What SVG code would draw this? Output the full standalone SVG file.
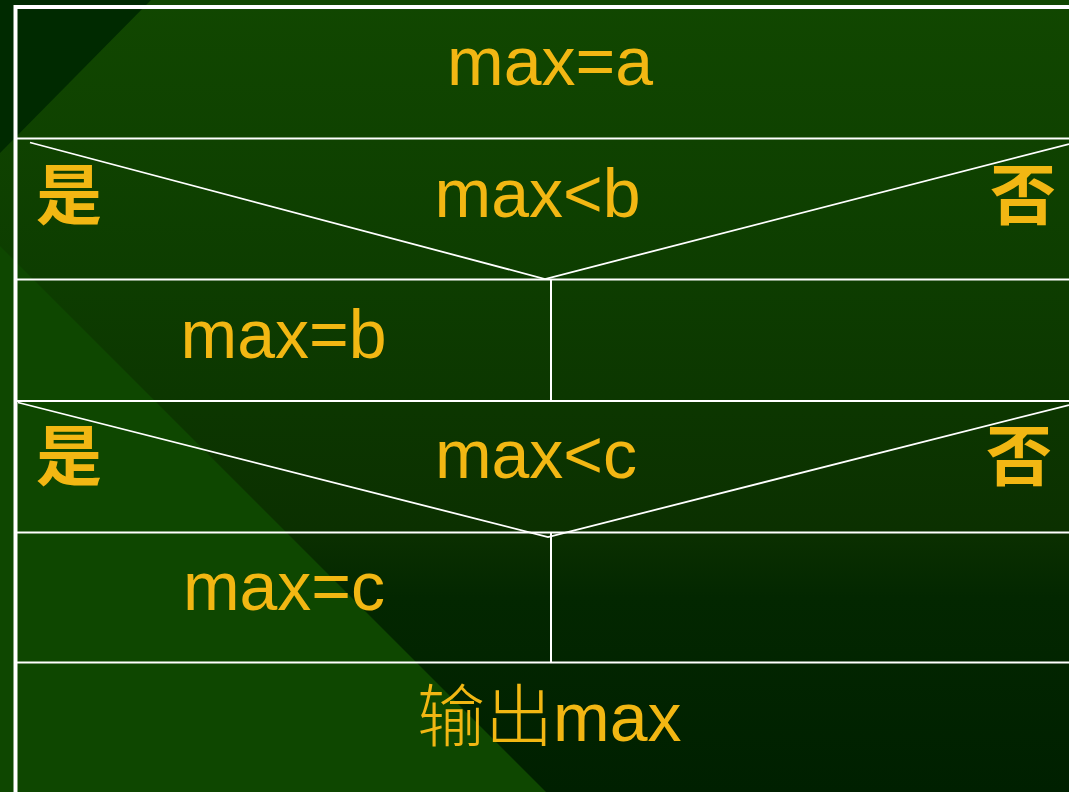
<svg xmlns="http://www.w3.org/2000/svg" width="1069" height="792" viewBox="0 0 1069 792">
  <defs>
    <linearGradient id="bg" x1="0" y1="0" x2="0" y2="1">
      <stop offset="0" stop-color="#114700"/>
      <stop offset="0.35" stop-color="#0d3d00"/>
      <stop offset="0.67" stop-color="#0b3000"/>
      <stop offset="0.755" stop-color="#032700"/>
      <stop offset="1" stop-color="#002000"/>
    </linearGradient>
  </defs>
  <style>
    .ln { stroke: #ffffff; stroke-width: 2; fill: none; }
    .dg { stroke: #ffffff; stroke-width: 1.8; fill: none; }
    .t { font-family: "Liberation Sans", Arial, sans-serif; font-size: 68px; fill: #f2b713; }
    .c { font-family: "Noto Sans CJK SC", sans-serif; font-size: 66px; font-weight: 700; fill: #f2b713; }
    .cl { font-family: "Noto Sans CJK SC", sans-serif; font-weight: 300; }
  </style>

  <g id="background">
    <rect x="0" y="0" width="1069" height="792" fill="url(#bg)"/>
    <polygon points="0,0 151,0 0,153" fill="#002a00"/>
    <polygon points="0,246 546,792 0,792" fill="#0e4700"/>
  </g>

  <g id="frame">
    <path d="M15.5,792 V7 H1069" stroke="#ffffff" stroke-width="4" fill="none"/>
  </g>

  <g id="connectors">
    <line class="ln" x1="17" y1="138.5" x2="1069" y2="138.5"/>
    <line class="ln" x1="17" y1="279.5" x2="1069" y2="279.5"/>
    <line class="ln" x1="17" y1="401" x2="1069" y2="401"/>
    <line class="ln" x1="17" y1="532.5" x2="1069" y2="532.5"/>
    <line class="ln" x1="17" y1="662.5" x2="1069" y2="662.5"/>
    <line class="ln" x1="551" y1="279.5" x2="551" y2="401"/>
    <line class="ln" x1="551" y1="532.5" x2="551" y2="662.5"/>
    <polyline class="dg" points="30,142.5 545,279 1069,144"/>
    <polyline class="dg" points="18,402.5 548,537 1069,405"/>
  </g>

  <g id="node-max-a">
    <text class="t" x="550" y="85" text-anchor="middle">max=a</text>
  </g>
  <g id="node-max-lt-b">
    <text class="t" x="537.5" y="217" text-anchor="middle">max&lt;b</text>
    <text class="c" x="36" y="219">是</text>
    <text class="c" x="990" y="219">否</text>
  </g>
  <g id="node-max-b">
    <text class="t" x="283.5" y="358" text-anchor="middle">max=b</text>
  </g>
  <g id="node-max-lt-c">
    <text class="t" x="536" y="478" text-anchor="middle">max&lt;c</text>
    <text class="c" x="36" y="480">是</text>
    <text class="c" x="986" y="480">否</text>
  </g>
  <g id="node-max-c">
    <text class="t" x="284" y="610" text-anchor="middle">max=c</text>
  </g>
  <g id="node-output">
    <text class="t" x="417" y="741"><tspan class="cl">输出</tspan>max</text>
  </g>
</svg>
